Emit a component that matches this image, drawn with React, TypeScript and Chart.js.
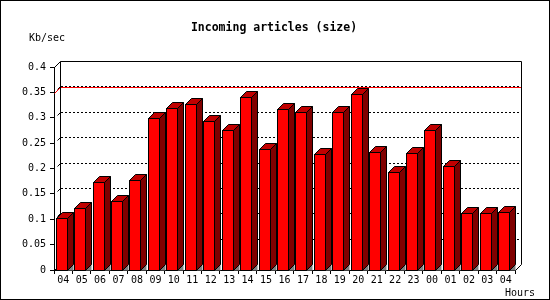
import React, { useEffect, useRef } from "react";
import { Chart, registerables } from "chart.js";

Chart.register(...registerables);

// ---- data ----
const chartTitle = "Incoming articles (size)";
const yUnit = "Kb/sec";
const xUnit = "Hours";
const hours = ["04", "05", "06", "07", "08", "09", "10", "11", "12", "13", "14", "15", "16", "17", "18", "19", "20", "21", "22", "23", "00", "01", "02", "03", "04"];
const kbPerSec = [0.102, 0.122, 0.173, 0.135, 0.177, 0.299, 0.319, 0.328, 0.293, 0.275, 0.341, 0.238, 0.317, 0.311, 0.228, 0.311, 0.346, 0.232, 0.194, 0.230, 0.275, 0.205, 0.112, 0.112, 0.114];
const yTickLabels = ["0", "0.05", "0.1", "0.15", "0.2", "0.25", "0.3", "0.35", "0.4"];
const yMin = 0;
const yMax = 0.4;
const yStep = 0.05;
const peakLine = 0.348;

// ---- style ----
const DEPTH = 6;
const MONO = "'DejaVu Sans Mono', monospace";
const FACE = "#ff0000";
const TOP = "#c00000";
const SIDE = "#800000";
const SHADOW = "#808080";

const threeD = {
  id: "threeD",
  beforeDatasetsDraw(chart: any) {
    const { ctx, chartArea: a, scales } = chart;
    const y = scales.y;
    const d = DEPTH;
    const L = Math.round(a.left);
    const R = Math.round(a.right);
    const T = Math.round(a.top);
    const B = Math.round(a.bottom);
    ctx.save();
    ctx.lineWidth = 1;
    ctx.strokeStyle = "#000";
    // dotted grid on the back wall
    ctx.setLineDash([2, 2]);
    for (let i = 1; i < yTickLabels.length - 1; i++) {
      const v = yMin + i * yStep;
      const py = Math.round(y.getPixelForValue(v)) - d + 0.5;
      ctx.beginPath();
      ctx.moveTo(L + d + 1, py);
      ctx.lineTo(R + d, py);
      ctx.stroke();
    }
    ctx.setLineDash([]);
    // small stubs near back wall
    for (let i = 1; i < yTickLabels.length - 1; i++) {
      const v = yMin + i * yStep;
      const py = Math.round(y.getPixelForValue(v)) - d + 0.5;
      ctx.beginPath();
      ctx.moveTo(L + d - 2.5, py + 3);
      ctx.lineTo(L + d + 0.5, py);
      ctx.stroke();
    }
    // peak line
    const ry = Math.round(y.getPixelForValue(peakLine)) + 0.5;
    ctx.strokeStyle = "#ff0000";
    ctx.beginPath();
    ctx.moveTo(L + 0.5, ry);
    ctx.lineTo(L + d + 0.5, ry - d);
    ctx.lineTo(R + d + 0.5, ry - d);
    ctx.stroke();
    // back wall frame
    ctx.strokeStyle = "#000";
    ctx.beginPath();
    ctx.moveTo(L + 0.5, T + 0.5);
    ctx.lineTo(L + d + 0.5, T - d + 0.5);
    ctx.lineTo(R + d + 0.5, T - d + 0.5);
    ctx.lineTo(R + d + 0.5, B - d + 0.5);
    ctx.lineTo(R + 0.5, B + 0.5);
    ctx.moveTo(L + d + 0.5, T - d + 0.5);
    ctx.lineTo(L + d + 0.5, B - d + 0.5);
    ctx.lineTo(L + 0.5, B + 0.5);
    ctx.stroke();
    ctx.restore();
  },
  afterDatasetsDraw(chart: any) {
    const { ctx } = chart;
    const d = DEPTH;
    const meta = chart.getDatasetMeta(0);
    ctx.save();
    ctx.lineWidth = 1;
    ctx.strokeStyle = "#000";
    ctx.lineJoin = "miter";
    meta.data.forEach((el: any) => {
      const p = el.getProps(["x", "y", "base", "width"], true);
      const l = Math.round(p.x - p.width / 2) - 2 + 0.5;
      const r = l + Math.round(p.width);
      const t = Math.round(p.y) + 0.5;
      const b = Math.round(p.base) + 0.5;
      // shadow on floor
      ctx.fillStyle = SHADOW;
      ctx.beginPath();
      ctx.moveTo(r, b);
      ctx.lineTo(r + d, b - d);
      ctx.lineTo(r + d, b);
      ctx.closePath();
      ctx.fill();
      // front face
      ctx.fillStyle = FACE;
      ctx.fillRect(l, t, r - l, b - t);
      ctx.strokeRect(l, t, r - l, b - t);
      // top face
      ctx.fillStyle = TOP;
      ctx.beginPath();
      ctx.moveTo(l, t);
      ctx.lineTo(l + d, t - d);
      ctx.lineTo(r + d, t - d);
      ctx.lineTo(r, t);
      ctx.closePath();
      ctx.fill();
      ctx.stroke();
      // side face
      ctx.fillStyle = SIDE;
      ctx.beginPath();
      ctx.moveTo(r, t);
      ctx.lineTo(r + d, t - d);
      ctx.lineTo(r + d, b - d);
      ctx.lineTo(r, b);
      ctx.closePath();
      ctx.fill();
      ctx.stroke();
    });
    ctx.restore();
  },
  afterDraw(chart: any) {
    const { ctx, chartArea: a } = chart;
    ctx.save();
    ctx.fillStyle = "#000";
    ctx.textBaseline = "alphabetic";
    ctx.font = `bold 11.5px ${MONO}`;
    ctx.textAlign = "center";
    ctx.fillText(chartTitle, 274, 31);
    ctx.font = `10px ${MONO}`;
    ctx.textAlign = "left";
    ctx.fillText(yUnit, 29, 41);
    ctx.fillText(xUnit, a.right - 10, 296);
    ctx.strokeStyle = "#000";
    ctx.lineWidth = 1;
    ctx.strokeRect(0.5, 0.5, 549, 299);
    ctx.restore();
  },
};

export default function App() {
  const ref = useRef<HTMLCanvasElement | null>(null);
  useEffect(() => {
    document.body.style.margin = "0";
    const canvas = ref.current;
    if (!canvas) return;
    const chart = new Chart(canvas, {
      type: "bar",
      data: {
        labels: hours,
        datasets: [
          {
            label: yUnit,
            data: kbPerSec,
            backgroundColor: "rgba(0,0,0,0)",
            borderWidth: 0,
            categoryPercentage: 1,
            barPercentage: 0.6,
          },
        ],
      },
      options: {
        animation: false,
        responsive: false,
        maintainAspectRatio: false,
        events: [],
        layout: { padding: { top: 67, right: 35, left: 0, bottom: 0 } },
        plugins: {
          legend: { display: false },
          title: { display: false },
          tooltip: { enabled: false },
        },
        scales: {
          x: {
            type: "category",
            offset: true,
            grid: {
              offset: true,
              drawOnChartArea: false,
              drawTicks: true,
              tickLength: 4,
              color: "#000",
            },
            border: { display: true, color: "#000", width: 1 },
            ticks: {
              color: "#000",
              font: { family: MONO, size: 10 },
              padding: 0,
              maxRotation: 0,
              autoSkip: false,
            },
            afterFit: (s: any) => {
              s.height = 30;
            },
          },
          y: {
            min: yMin,
            max: yMax,
            grid: {
              drawOnChartArea: false,
              drawTicks: true,
              tickLength: 4,
              color: "#000",
            },
            border: { display: true, color: "#000", width: 1 },
            ticks: {
              stepSize: yStep,
              color: "#000",
              font: { family: MONO, size: 10 },
              padding: 4,
              callback: (_v: any, i: number) => yTickLabels[i],
            },
            afterFit: (s: any) => {
              s.width = 54;
            },
          },
        },
      },
      plugins: [threeD],
    });
    return () => chart.destroy();
  }, []);
  return (
    <div style={{ position: "absolute", left: 0, top: 0, width: 550, height: 300, background: "#fff" }}>
      <canvas ref={ref} width={550} height={300} style={{ display: "block", width: 550, height: 300 }} />
    </div>
  );
}
